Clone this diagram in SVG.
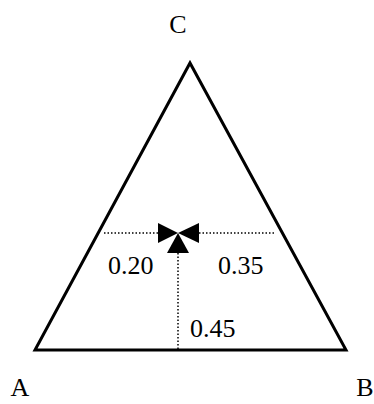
<svg xmlns="http://www.w3.org/2000/svg" width="374" height="404" viewBox="0 0 374 404">
<style>
text{font-family:"Liberation Serif","DejaVu Serif",serif;font-size:26px;fill:#000}
.dot{stroke:#000;stroke-width:1.5;stroke-dasharray:1.5 2;fill:none}
</style>
<rect width="374" height="404" fill="#fff"/>
<g id="triangle">
<polygon points="35,350 346,350 190,63" fill="none" stroke="#000" stroke-width="3" stroke-linejoin="miter"/>
</g>
<g id="connectors">
<line class="dot" x1="104" y1="233" x2="158" y2="233"/>
<line class="dot" x1="199" y1="233" x2="276" y2="233"/>
<line class="dot" x1="178" y1="253" x2="178" y2="350"/>
<polygon points="158,223 178,233 158,243" fill="#000"/>
<polygon points="199,223 178,233 199,243" fill="#000"/>
<polygon points="167,253 178,233 189,253" fill="#000"/>
</g>
<g id="vertexC"><text x="178" y="33" text-anchor="middle">C</text></g>
<g id="vertexA"><text x="20" y="396" text-anchor="middle">A</text></g>
<g id="vertexB"><text x="365" y="396" text-anchor="middle">B</text></g>
<g id="labelA"><text x="108" y="274">0.20</text></g>
<g id="labelB"><text x="218" y="274">0.35</text></g>
<g id="labelC"><text x="190" y="337">0.45</text></g>
</svg>
